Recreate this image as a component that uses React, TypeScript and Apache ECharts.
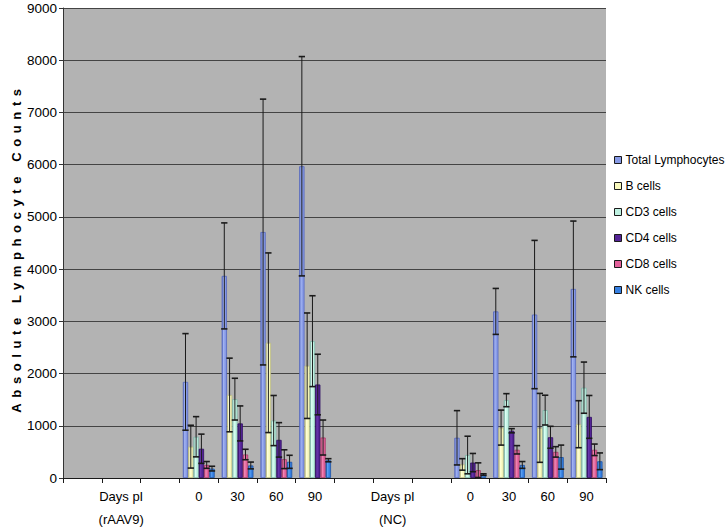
import React, { useEffect, useRef } from "react";
import * as echarts from "echarts";

const categories = ["", "Days pI\n(rAAV9)", "", "0", "30", "60", "90", "", "Days pI\n(NC)", "", "0", "30", "60", "90"];

const seriesNames = ["Total Lymphocytes", "B cells", "CD3 cells", "CD4 cells", "CD8 cells", "NK cells"];

const totalVals = [null, null, null, 1840, 3870, 4710, 5970, null, null, null, 770, 3190, 3130, 3620];
const totalErr = [null, null, null, 925, 1015, 2545, 2100, null, null, null, 520, 440, 1420, 1300];
const bVals = [null, null, null, 600, 1590, 2590, 2150, null, null, null, 260, 965, 960, 1030];
const bErr = [null, null, null, 410, 705, 1720, 1010, null, null, null, 110, 335, 660, 450];
const cd3Vals = [null, null, null, 790, 1510, 1100, 2620, null, null, null, 440, 1490, 1300, 1730];
const cd3Err = [null, null, null, 385, 400, 480, 870, null, null, null, 360, 125, 285, 490];
const cd4Vals = [null, null, null, 560, 1045, 730, 1790, null, null, null, 295, 905, 780, 1170];
const cd4Err = [null, null, null, 280, 335, 330, 580, null, null, null, 175, 40, 210, 410];
const cd8Vals = [null, null, null, 250, 450, 360, 775, null, null, null, 150, 540, 500, 540];
const cd8Err = [null, null, null, 65, 100, 180, 335, null, null, null, 140, 80, 100, 110];
const nkVals = [null, null, null, 180, 240, 310, 340, null, null, null, 65, 250, 400, 320];
const nkErr = [null, null, null, 45, 65, 125, 30, null, null, null, 15, 65, 230, 160];

const yTicks = [0, 1000, 2000, 3000, 4000, 5000, 6000, 7000, 8000, 9000];

const allVals = [totalVals, bVals, cd3Vals, cd4Vals, cd8Vals, nkVals];
const allErr = [totalErr, bErr, cd3Err, cd4Err, cd8Err, nkErr];

const yName = "Absolute Lymphocyte Counts";

// [edge, light, mid]
const palette = [
  ["#5568c0", "#a2b3f2", "#879ae6"],
  ["#bdbd80", "#ffffd8", "#f8f8bc"],
  ["#80b8aa", "#dcfff4", "#bff2e2"],
  ["#2e0c62", "#6a38ae", "#542496"],
  ["#a83a68", "#f28ab6", "#e2609a"],
  ["#1a52a6", "#5aa0f2", "#3680e2"],
];

const CAT_GAP = 0.18;

export default function App() {
  const ref = useRef<HTMLDivElement>(null);
  useEffect(() => {
    if (!ref.current) return;
    const chart = echarts.init(ref.current, null, { renderer: "svg" });
    const barSeries = seriesNames.map((name, i) => ({
      name,
      type: "bar",
      data: allVals[i],
      barGap: "0%",
      barCategoryGap: (CAT_GAP * 100) + "%",
      itemStyle: {
        color: new echarts.graphic.LinearGradient(0, 0, 1, 0, [
          { offset: 0, color: palette[i][0] },
          { offset: 0.3, color: palette[i][1] },
          { offset: 0.7, color: palette[i][2] },
          { offset: 1, color: palette[i][2] },
        ]),
        borderColor: palette[i][0],
        borderWidth: 0.8,
      },
      z: 2,
    }));
    const errSeries = seriesNames.map((name, i) => ({
      name: "err-" + name,
      type: "custom",
      z: 3,
      encode: { x: 0, y: 1 },
      data: allVals[i]
        .map((v, c) => (v == null ? null : [c, v, allErr[i][c]]))
        .filter((d) => d !== null),
      renderItem: (params: any, api: any) => {
        const cat = api.value(0);
        const v = api.value(1);
        const e = api.value(2);
        const band = api.size([1, 0])[0];
        const groupW = band * (1 - CAT_GAP);
        const bw = groupW / seriesNames.length;
        const cx = api.coord([cat, v])[0] - groupW / 2 + (i + 0.5) * bw;
        const yTop = api.coord([cat, v + e])[1];
        const yBot = api.coord([cat, Math.max(0, v - e)])[1];
        const half = Math.max(3, bw / 2 + 0.5);
        const st = { stroke: "#1a1a1a", lineWidth: 1 };
        const stCap = { stroke: "#1a1a1a", lineWidth: 1.6 };
        return {
          type: "group",
          children: [
            { type: "line", shape: { x1: cx, y1: yTop, x2: cx, y2: yBot }, style: st },
            { type: "line", shape: { x1: cx - half, y1: yTop, x2: cx + half, y2: yTop }, style: stCap },
            { type: "line", shape: { x1: cx - half, y1: yBot, x2: cx + half, y2: yBot }, style: stCap },
          ],
        };
      },
    }));
    chart.setOption({
      animation: false,
      backgroundColor: "#ffffff",
      textStyle: { fontFamily: "Liberation Sans, Arial, sans-serif" },
      grid: {
        left: 63,
        top: 8,
        width: 543,
        height: 470,
        show: true,
        backgroundColor: "#b3b3b3",
        borderWidth: 0,
        containLabel: false,
        outerBoundsMode: "none",
      },
      legend: {
        orient: "vertical",
        left: 609,
        top: 149,
        itemWidth: 7,
        itemHeight: 7,
        itemGap: 14,
        icon: "rect",
        selectedMode: false,
        data: seriesNames.map((n, i) => ({
          name: n,
          itemStyle: { color: palette[i][2], borderColor: "#1a1a1a", borderWidth: 1 },
        })),
        textStyle: { fontSize: 12, color: "#000", lineHeight: 12, padding: [0, 0, 0, -1] },
      },
      xAxis: {
        type: "category",
        data: categories,
        axisLine: { show: true, lineStyle: { color: "#1a1a1a", width: 1 } },
        axisTick: { show: true, interval: 0, length: 5, lineStyle: { color: "#1a1a1a" } },
        axisLabel: {
          interval: 0,
          fontSize: 13,
          color: "#000",
          lineHeight: 23,
          margin: 7,
          verticalAlign: "top",
        },
        splitLine: { show: false },
      },
      yAxis: {
        type: "value",
        min: 0,
        max: 9000,
        interval: 1000,
        name: yName,
        nameLocation: "middle",
        nameGap: 40,
        nameMoveOverlap: false,
        nameTextStyle: { fontSize: 13, fontWeight: "bold", color: "#000", padding: [0, 10, 0, 0] },
        axisLine: { show: true, lineStyle: { color: "#333", width: 1 } },
        axisTick: { show: true, length: 4, lineStyle: { color: "#333" } },
        axisLabel: {
          fontSize: 13.5,
          color: "#000",
          margin: 6,
          formatter: (v: number) => (yTicks.includes(v) ? String(v) : ""),
        },
        splitLine: { show: true, lineStyle: { color: "#444", width: 1 } },
      },
      series: [...barSeries, ...errSeries],
    });
    // widen the axis title's letter spacing like the original
    const texts = ref.current.querySelectorAll("text");
    texts.forEach((t) => {
      if (t.textContent === yName) {
        (t as SVGTextElement).style.letterSpacing = "5.6px";
      }
    });
    return () => chart.dispose();
  }, []);
  return (
    <div
      ref={ref}
      style={{ position: "absolute", left: 0, top: 0, width: 727, height: 527 }}
    />
  );
}
